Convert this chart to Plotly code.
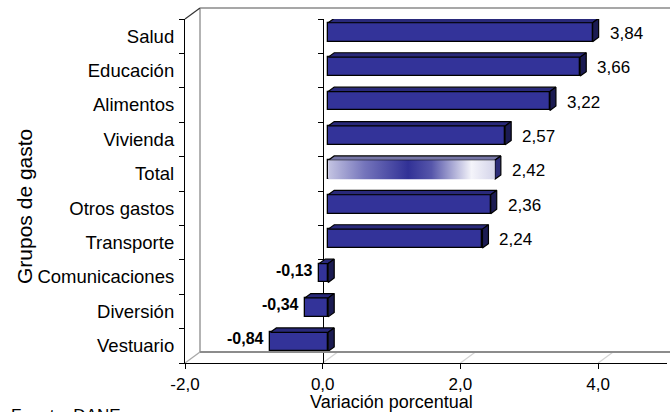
import plotly.graph_objects as go

# ---------------- data ----------------
categories = ["Salud", "Educación", "Alimentos", "Vivienda", "Total",
              "Otros gastos", "Transporte", "Comunicaciones", "Diversión", "Vestuario"]
values = [3.84, 3.66, 3.22, 2.57, 2.42, 2.36, 2.24, -0.13, -0.34, -0.84]
value_labels = ["3,84", "3,66", "3,22", "2,57", "2,42", "2,36", "2,24", "-0,13", "-0,34", "-0,84"]
x_tick_vals = [-2, 0, 2, 4]
x_tick_text = ["-2,0", "0,0", "2,0", "4,0"]
highlight = "Total"
x_title = "Variación porcentual"
y_title = "Grupos de gasto"
source = "Fuente: DANE"

# ---------------- geometry / style ----------------
W, H = 670, 412
L, R, T, B = 185, 667, 19, 363          # front plane (px)
XMIN, XMAX = -2, 5
n = len(categories)
ppx = (R - L) / (XMAX - XMIN)
ppy = (B - T) / n
BAR_SHIFT = (5.5, 4.0)                  # bar plane offset (px right, px up)
DEPTH = (6.0, 4.4)                      # bar depth (px right, px up)
WALL = (15.0, 11.0)                     # back wall offset
BAR_W = 0.55
FONT = "Liberation Sans, Arial, sans-serif"
NAVY = "#333399"
TOP_C = "#29297a"
SIDE_C = "#1b1b52"


def px(x):
    return x / W


def py(y):
    return 1 - y / H


ddx = DEPTH[0] / ppx
ddy = DEPTH[1] / ppy
ypos = list(range(n))
front_xdom = [px(L), px(R)]
front_ydom = [py(B), py(T)]

fig = go.Figure()

# invisible trace so the front subplot exists
fig.add_trace(go.Scatter(x=[0], y=[0], xaxis="x2", yaxis="y2", mode="markers",
                         marker=dict(opacity=0), hoverinfo="skip", showlegend=False))
# invisible trace so the zero-crossing category axis exists
fig.add_trace(go.Scatter(x=[0], y=[0], xaxis="x2", yaxis="y4", mode="markers",
                         marker=dict(opacity=0), hoverinfo="skip", showlegend=False))


# --- 3D faces (top and side) computed from the data values ---
def faces(idx_list):
    top_x, top_y, side_x, side_y = [], [], [], []
    for i in idx_list:
        v = values[i]
        x0, x1 = min(v, 0), max(v, 0)
        yt, yb = i - BAR_W / 2, i + BAR_W / 2
        top_x += [x0, x1, x1 + ddx, x0 + ddx, x0, None]
        top_y += [yt, yt, yt - ddy, yt - ddy, yt, None]
        side_x += [x1, x1 + ddx, x1 + ddx, x1, x1, None]
        side_y += [yt, yt - ddy, yb - ddy, yb, yt, None]
    return top_x, top_y, side_x, side_y


normal = [i for i, c in enumerate(categories) if c != highlight]
hl = [i for i, c in enumerate(categories) if c == highlight]

for idxs, tc, sc in [(normal, TOP_C, SIDE_C), (hl, "#7676a6", "#2c2c78")]:
    tx, ty, sx, sy = faces(idxs)
    fig.add_trace(go.Scatter(x=tx, y=ty, mode="lines", fill="toself", fillcolor=tc,
                             line=dict(color="black", width=1.2), xaxis="x3", yaxis="y3",
                             hoverinfo="skip", showlegend=False))
    fig.add_trace(go.Scatter(x=sx, y=sy, mode="lines", fill="toself", fillcolor=sc,
                             line=dict(color="black", width=1.2), xaxis="x3", yaxis="y3",
                             hoverinfo="skip", showlegend=False))

# gradient front face for the highlighted bar
for i in hl:
    v = values[i]
    x0, x1 = min(v, 0), max(v, 0)
    yt, yb = i - BAR_W / 2, i + BAR_W / 2
    fig.add_trace(go.Scatter(
        x=[x0, x1, x1, x0, x0], y=[yt, yt, yb, yb, yt], mode="lines", fill="toself",
        fillgradient=dict(type="horizontal",
                          colorscale=[[0, "#c4c4e2"], [0.22, "#7474bb"], [0.48, "#313196"],
                                      [0.62, "#5656aa"], [0.86, "#f4f4fa"], [1, "#d4d4ea"]]),
        line=dict(width=0), xaxis="x3", yaxis="y3", hoverinfo="skip", showlegend=False))

# --- bars (front faces) ---
fig.add_trace(go.Bar(
    x=values, y=ypos, orientation="h", width=BAR_W,
    marker=dict(color=["rgba(0,0,0,0)" if c == highlight else NAVY for c in categories],
                line=dict(color="black", width=1.3)),
    xaxis="x3", yaxis="y3", hoverinfo="skip", showlegend=False))

# --- value labels ---
for i, (v, t) in enumerate(zip(values, value_labels)):
    if v >= 0:
        fig.add_annotation(x=v, y=i, xref="x3", yref="y3", text=t, showarrow=False,
                           xanchor="left", xshift=15, yshift=-1,
                           font=dict(family=FONT, size=17, color="black"))
    else:
        fig.add_annotation(x=v, y=i, xref="x3", yref="y3", text="<b>" + t + "</b>",
                           showarrow=False, xanchor="right", xshift=-4, yshift=3,
                           font=dict(family=FONT, size=16, color="black"))

# --- titles / source ---
fig.add_annotation(x=px(391), y=py(402), xref="paper", yref="paper", text=x_title,
                   showarrow=False, xanchor="center", yanchor="middle",
                   font=dict(family=FONT, size=18, color="black"))
fig.add_annotation(x=px(24), y=py(207), xref="paper", yref="paper", text=y_title,
                   showarrow=False, textangle=-90, xanchor="center", yanchor="middle",
                   font=dict(family=FONT, size=21, color="black"))
fig.add_annotation(x=px(9), y=py(404), xref="paper", yref="paper", text=source,
                   showarrow=False, xanchor="left", yanchor="top",
                   font=dict(family=FONT, size=17, color="black"))

# --- frame (3D walls) ---
wl, wt, wb = L + WALL[0], T - WALL[1], B - WALL[1]
shapes = [
    dict(type="line", xref="paper", yref="paper", x0=px(wl), y0=py(wt), x1=1, y1=py(wt),
         line=dict(color="#8a8a8a", width=1.5)),
    dict(type="line", xref="paper", yref="paper", x0=px(wl), y0=py(wt), x1=px(wl), y1=py(wb),
         line=dict(color="#9a9a9a", width=1.5)),
    dict(type="line", xref="paper", yref="paper", x0=px(wl), y0=py(wb), x1=1, y1=py(wb),
         line=dict(color="#8c8c8c", width=2.2)),
    dict(type="line", xref="paper", yref="paper", x0=px(L), y0=py(T), x1=px(wl), y1=py(wt),
         line=dict(color="#333333", width=1.2)),
]
for xv in x_tick_vals + [XMAX]:
    shapes.append(dict(type="line", xref="x2", yref="paper", x0=xv, y0=py(B),
                       x1=xv + WALL[0] / ppx, y1=py(wb),
                       line=dict(color="#a8a8a8" if xv == XMIN else "#d4d4d4", width=1.3),
                       layer="below"))

boundaries = [i - 0.5 for i in range(n + 1)]

fig.update_layout(
    template="none", shapes=shapes,
    width=W, height=H, margin=dict(l=0, r=0, t=0, b=0, pad=0, autoexpand=False),
    paper_bgcolor="white", plot_bgcolor="rgba(0,0,0,0)",
    showlegend=False, bargap=0,
    font=dict(family=FONT, color="black"),
    # back wall with vertical gridlines
    xaxis=dict(domain=[px(wl), 1], range=[XMIN, XMIN + (W - wl) / ppx], tickvals=x_tick_vals[1:],
               showgrid=True, gridcolor="#d9d9d9", gridwidth=1.5, showticklabels=False,
               ticks="", zeroline=False, showline=False, anchor="y", fixedrange=True,
               automargin=False),
    yaxis=dict(domain=[py(wb), py(wt)], range=[0, 1], showgrid=False, showticklabels=False,
               ticks="", zeroline=False, showline=False, anchor="x", fixedrange=True,
               automargin=False),
    # front axes
    xaxis2=dict(domain=front_xdom, range=[XMIN, XMAX], tickvals=x_tick_vals,
                ticktext=x_tick_text, ticks="outside", ticklen=5, tickcolor="black",
                showline=True, linecolor="black", linewidth=1.2, showgrid=False,
                zeroline=False, anchor="y2", tickfont=dict(family=FONT, size=17),
                ticklabelstandoff=0, automargin=False),
    yaxis2=dict(domain=front_ydom, range=[n - 0.5, -0.5], tickvals=ypos,
                ticktext=categories, ticks="", showline=True, linecolor="black",
                linewidth=1.2, showgrid=False, zeroline=False, anchor="x2",
                tickfont=dict(family=FONT, size=18.5), ticklabelstandoff=6, automargin=False,
                minor=dict(tickvals=boundaries, ticks="outside", ticklen=5,
                           tickcolor="black", showgrid=False)),
    # bar plane (shifted into depth)
    xaxis3=dict(domain=front_xdom,
                range=[XMIN - BAR_SHIFT[0] / ppx, XMAX - BAR_SHIFT[0] / ppx],
                visible=False, anchor="y3", automargin=False),
    yaxis3=dict(domain=front_ydom,
                range=[n - 0.5 + BAR_SHIFT[1] / ppy, -0.5 + BAR_SHIFT[1] / ppy],
                visible=False, anchor="x3", automargin=False),
    # category axis crossing at zero
    yaxis4=dict(domain=front_ydom, anchor="free", position=px(L + (0 - XMIN) * ppx),
                range=[n - 0.5, -0.5], showline=True, linecolor="black", linewidth=1.2,
                showticklabels=False, ticks="", showgrid=False, zeroline=False,
                layer="below traces", automargin=False,
                minor=dict(tickvals=boundaries, ticks="outside", ticklen=5,
                           tickcolor="black", showgrid=False)),
)

fig.write_html("out.html", config=dict(displayModeBar=False),
               post_script="document.body.style.margin='0';")
